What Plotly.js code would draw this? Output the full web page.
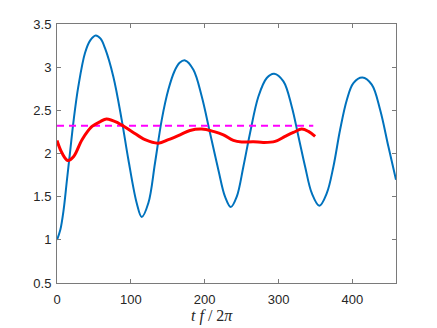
<!DOCTYPE html>
<html>
<head>
<meta charset="utf-8">
<script src="https://cdn.plot.ly/plotly-3.0.1.min.js"></script>
<style>html,body{margin:0;padding:0;background:#fff;}#chart{width:437px;height:328px;}</style>
</head>
<body>
<div id="chart"></div>
<script>
// Blue oscillating series
const blueX = [0, 4.5, 9, 13.5, 18, 22.6, 28.9, 37.9, 45, 52.4, 59, 65, 76.3, 87.6, 96.6, 107.9, 114.7, 123.7, 132.7, 141.8, 150.8, 158.9, 166, 173.4, 184.7, 196, 207.2, 218.5, 227.5, 235.3, 243.4, 252.4, 261.4, 272.7, 284, 294, 306.6, 317.8, 326.9, 335.9, 345, 355.3, 365.3, 374.3, 383.3, 392.4, 401.3, 413.5, 426.2, 437.5, 448.7, 459];
const blueY = [1.0, 1.116, 1.35, 1.696, 2.04, 2.39, 2.777, 3.164, 3.31, 3.368, 3.33, 3.22, 2.89, 2.39, 1.93, 1.426, 1.264, 1.426, 1.89, 2.39, 2.74, 2.95, 3.05, 3.078, 2.97, 2.66, 2.237, 1.81, 1.50, 1.379, 1.50, 1.85, 2.237, 2.66, 2.874, 2.924, 2.835, 2.545, 2.198, 1.85, 1.54, 1.395, 1.54, 1.85, 2.275, 2.62, 2.816, 2.88, 2.797, 2.507, 2.08, 1.696];

// Red smoothed series
const redX = [0, 6.8, 14.5, 22.6, 33.9, 47.4, 58.7, 67, 83, 101.2, 119.2, 137.2, 150.8, 166.6, 180.1, 196, 211.7, 225.3, 238.8, 250.1, 265.9, 279.4, 295.3, 308.8, 320.1, 331.4, 340.4, 349.5];
const redY = [2.15, 2.005, 1.92, 1.966, 2.16, 2.313, 2.37, 2.40, 2.353, 2.256, 2.16, 2.12, 2.16, 2.217, 2.267, 2.283, 2.256, 2.217, 2.151, 2.133, 2.136, 2.128, 2.14, 2.198, 2.244, 2.283, 2.256, 2.198];

// Mean level (magenta dashed)
const meanX = [0, 347];
const meanY = [2.32, 2.32];

const xTicks = [0, 100, 200, 300, 400];
const yTicks = [0.5, 1, 1.5, 2, 2.5, 3, 3.5];
const yTickText = ['0.5', '1', '1.5', '2', '2.5', '3', '3.5'];
const xTitle = '<i>t f</i> / 2<i>π</i>';

const traces = [
  {x: blueX, y: blueY, type: 'scatter', mode: 'lines', line: {color: '#0072BD', width: 2, shape: 'spline', smoothing: 1}, hoverinfo: 'skip'},
  {x: meanX, y: meanY, type: 'scatter', mode: 'lines', line: {color: '#FF00FF', width: 2, dash: '7px,5px'}, hoverinfo: 'skip'},
  {x: redX, y: redY, type: 'scatter', mode: 'lines', line: {color: '#FF0000', width: 3, shape: 'spline', smoothing: 1}, hoverinfo: 'skip'}
];

const axisCommon = {
  showline: true, linecolor: '#7a7a7a', linewidth: 1, mirror: 'ticks',
  ticks: 'inside', ticklen: 4, tickcolor: '#7a7a7a', tickwidth: 1,
  showgrid: false, zeroline: false,
  tickfont: {family: 'Liberation Sans, Arial, sans-serif', size: 13, color: '#262626'}
};

const layout = {
  width: 437, height: 328,
  margin: {l: 57, r: 41, t: 24, b: 45, pad: 0},
  paper_bgcolor: '#ffffff', plot_bgcolor: '#ffffff',
  showlegend: false,
  xaxis: Object.assign({}, axisCommon, {range: [0, 459], tickvals: xTicks, ticktext: xTicks.map(String), ticklabelstandoff: 4}),
  yaxis: Object.assign({}, axisCommon, {range: [0.5, 3.5], tickvals: yTicks, ticktext: yTickText, ticklabelstandoff: 2}),
  annotations: [{
    text: xTitle, xref: 'paper', yref: 'paper',
    x: (212 - 57) / (437 - 57 - 41), y: 0, yshift: -22, xanchor: 'center', yanchor: 'top',
    showarrow: false,
    font: {family: 'Liberation Serif, Times New Roman, serif', size: 16, color: '#262626'}
  }]
};

Plotly.newPlot('chart', traces, layout, {staticPlot: true, displayModeBar: false});
</script>
</body>
</html>
